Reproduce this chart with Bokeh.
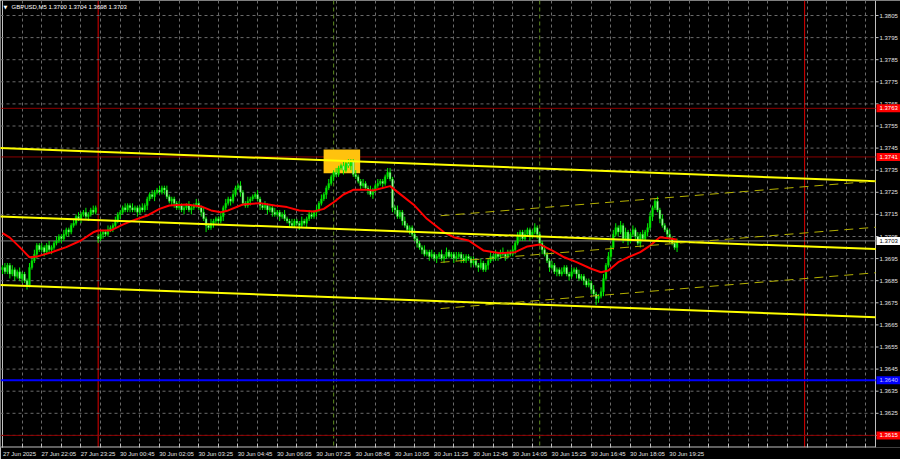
import numpy as np
from bokeh.plotting import figure
from bokeh.models import ColumnDataSource, FixedTicker, Span, Label, Range1d
from bokeh.core.properties import value
from bokeh.embed import file_html
from bokeh.resources import INLINE

# ---------------- data ----------------
symbol = "GBPUSD,M5"
BASE = 1.3700
PIP = 0.0001

# closes in pips relative to 1.3700, one per M5 bar (27 Jun 20:45 ... 30 Jun 19:40)
close_pips = [
    -9, -11, -8, -12, -10, -13, -11, -14, -12, -15,
    -17, -9, -6, -3, 1, -1, 0, -2, 1, -1,
    0, 2, 3, 5, 4, 6, 8, 7, 10, 11,
    14, 13, 15, 16, 14, 15, 17, 16, 18, 4,
    6, 7, 6, 8, 9, 10, 12, 15, 16, 18,
    17, 19, 18, 17, 18, 16, 18, 17, 19, 22,
    24, 23, 25, 26, 25, 27, 26, 23, 21, 22,
    20, 18, 19, 17, 18, 19, 17, 18, 19, 20,
    18, 16, 13, 10, 9, 11, 12, 13, 12, 14,
    18, 20, 22, 21, 24, 27, 28, 25, 20, 19,
    21, 22, 23, 24, 22, 19, 18, 19, 17, 18,
    16, 15, 16, 14, 15, 13, 12, 11, 10, 12,
    11, 10, 12, 11, 13, 15, 14, 16, 17, 20,
    22, 24, 27, 29, 32, 34, 33, 36, 37, 35,
    38, 37, 39, 33, 32, 30, 28, 29, 27, 26,
    24, 26, 28, 29, 30, 29, 32, 34, 31, 18,
    17, 14, 16, 12, 10, 8, 9, 6, 4, 2,
    0, -1, -3, -2, -4, -3, -5, -4, -3, -5,
    -4, -2, -4, -3, -5, -4, -3, -5, -6, -4,
    -5, -7, -6, -8, -9, -7, -10, -8, -6, -4,
    -5, -3, -4, -2, -3, -4, -2, -3, -1, 2,
    5, 7, 4, 6, 8, 5, 7, 9, 6, 2,
    -1, -3, -6, -9, -8, -11, -10, -12, -11, -9,
    -12, -13, -11, -10, -12, -14, -13, -15, -17, -16,
    -19, -21, -23, -22, -20, -14, -8, -4, 0, 6,
    9, 7, 10, 4, 7, 3, 6, 8, 5, 2,
    6, 4, 7, 9, 14, 18, 21, 17, 13, 10,
    8, 6, 4, 2, 0, 3,
]
up_wick_pips = [
    1, 2, 1, 1, 2, 1, 1, 2, 1, 1,
    1, 2, 1, 2, 1, 1, 2, 1, 1, 2,
    1, 1, 2, 1, 1, 2, 1, 1, 1, 2,
    1, 2, 1, 1, 2, 1, 1, 2, 1, 1,
    2, 1, 1, 2, 1, 1, 2, 1, 1, 1,
    2, 1, 1, 2, 1, 1, 1, 2, 1, 1,
    1, 2, 1, 1, 2, 1, 1, 2, 1, 1,
    1, 1, 2, 1, 1, 1, 2, 1, 1, 2,
    1, 1, 2, 1, 1, 2, 1, 1, 1, 2,
    1, 2, 1, 1, 2, 1, 1, 2, 1, 1,
    2, 1, 1, 1, 2, 1, 1, 2, 1, 1,
    1, 2, 1, 1, 1, 2, 1, 1, 2, 1,
    1, 1, 2, 1, 1, 2, 1, 1, 2, 1,
    2, 1, 1, 2, 1, 1, 2, 1, 1, 2,
    1, 2, 1, 1, 2, 1, 1, 2, 1, 1,
    2, 1, 1, 2, 1, 1, 1, 2, 2, 1,
    1, 2, 1, 1, 2, 1, 1, 1, 2, 1,
    1, 1, 2, 1, 1, 2, 1, 1, 1, 2,
    1, 2, 1, 1, 1, 2, 1, 1, 2, 1,
    1, 1, 2, 1, 1, 2, 1, 1, 1, 2,
    1, 2, 1, 1, 2, 1, 1, 1, 2, 1,
    2, 1, 1, 2, 1, 1, 1, 2, 1, 1,
    1, 2, 1, 1, 2, 1, 1, 1, 2, 1,
    1, 1, 2, 1, 1, 2, 1, 1, 1, 2,
    1, 2, 1, 1, 2, 2, 1, 2, 1, 2,
    2, 1, 2, 1, 2, 1, 1, 2, 1, 2,
    1, 2, 1, 2, 2, 1, 1, 2, 1, 2,
    1, 1, 2, 1, 1, 1,
]
dn_wick_pips = [
    2, 1, 1, 2, 1, 2, 1, 1, 2, 1,
    2, 1, 1, 1, 2, 1, 1, 2, 1, 1,
    2, 1, 1, 1, 2, 1, 1, 2, 1, 1,
    1, 1, 2, 1, 1, 2, 1, 1, 1, 2,
    1, 2, 1, 1, 1, 2, 1, 1, 2, 1,
    1, 1, 2, 1, 1, 2, 1, 1, 1, 2,
    1, 1, 2, 1, 1, 1, 2, 1, 1, 2,
    2, 1, 1, 1, 2, 1, 1, 2, 1, 1,
    1, 2, 1, 3, 1, 1, 2, 1, 1, 1,
    2, 1, 1, 2, 1, 1, 1, 2, 1, 1,
    1, 2, 1, 1, 1, 2, 1, 1, 2, 1,
    2, 1, 1, 2, 1, 1, 1, 2, 1, 1,
    1, 2, 1, 1, 2, 1, 1, 1, 2, 1,
    1, 1, 2, 1, 1, 2, 1, 1, 1, 2,
    1, 1, 2, 1, 1, 1, 2, 1, 1, 2,
    1, 2, 1, 1, 1, 2, 1, 1, 1, 2,
    2, 1, 1, 2, 1, 1, 2, 1, 1, 2,
    1, 2, 1, 1, 2, 1, 1, 2, 1, 1,
    2, 1, 1, 1, 2, 1, 1, 2, 1, 1,
    1, 2, 1, 1, 2, 1, 1, 1, 2, 1,
    1, 1, 2, 1, 1, 2, 1, 1, 1, 2,
    1, 2, 1, 1, 1, 2, 1, 1, 2, 1,
    2, 1, 1, 2, 1, 1, 2, 1, 1, 1,
    1, 2, 1, 1, 2, 1, 1, 2, 1, 1,
    2, 1, 3, 2, 1, 2, 1, 1, 2, 1,
    1, 2, 1, 2, 1, 2, 1, 1, 2, 1,
    2, 1, 1, 2, 1, 2, 1, 1, 2, 1,
    1, 2, 1, 1, 1, 2,
]
first_open_pips = -10
gap_bar = 39            # first bar of 30 Jun (after the weekend)
gap_open_pips = 5

# moving average (red), read at sampled bars
ma_bars = [0, 3, 7, 11, 14, 20, 26, 32, 37, 39, 44, 49, 53, 59, 64, 68, 75, 81, 85, 89,
           92, 98, 105, 111, 116, 121, 127, 131, 135, 139, 143, 149, 151, 158, 162, 168,
           173, 180, 184, 190, 196, 203, 209, 214, 219, 224, 229, 234, 240, 244, 247, 251,
           255, 260, 264, 268, 273, 275]
ma_prices = [1.37065, 1.37045, 1.37002, 1.36956, 1.36959, 1.36979, 1.37002, 1.37032, 1.37069, 1.37077,
             1.37077, 1.37104, 1.37122, 1.37145, 1.37175, 1.37190, 1.37195, 1.37186, 1.37168, 1.37160,
             1.37168, 1.37195, 1.37201, 1.37190, 1.37183, 1.37168, 1.37163, 1.37175, 1.37205, 1.37240,
             1.37261, 1.37261, 1.37258, 1.37278, 1.37243, 1.37190, 1.37130, 1.37069, 1.37047, 1.37032,
             1.36987, 1.36974, 1.36979, 1.37005, 1.37014, 1.36987, 1.36956, 1.36934, 1.36904, 1.36888,
             1.36896, 1.36934, 1.36956, 1.36979, 1.37009, 1.37047, 1.37040, 1.37035]

# time axis labels (one every 16 bars, starting at bar 0)
tick_labels = ["27 Jun 2025", "27 Jun 22:05", "27 Jun 23:25", "30 Jun 00:45", "30 Jun 02:05",
               "30 Jun 03:25", "30 Jun 04:45", "30 Jun 06:05", "30 Jun 07:25", "30 Jun 08:45",
               "30 Jun 10:05", "30 Jun 11:25", "30 Jun 12:45", "30 Jun 14:05", "30 Jun 15:25",
               "30 Jun 16:45", "30 Jun 18:05", "30 Jun 19:25"]
price_ticks = [1.3615, 1.3625, 1.3635, 1.3645, 1.3655, 1.3665, 1.3675, 1.3685, 1.3695, 1.3705,
               1.3715, 1.3725, 1.3735, 1.3745, 1.3755, 1.3765, 1.3775, 1.3785, 1.3795, 1.3805]

# horizontal levels
res_levels = [1.3763, 1.3741]
sup_blue = 1.3640
sup_red = 1.3615

# descending channel (solid yellow)
down_bars = [-1, 356]
down_top = [1.37451, 1.37300]
down_mid = [1.37141, 1.36993]
down_bot = [1.36831, 1.36685]
# ascending channel (dashed)
up_bars = [178.6, 356]
up_top = [1.37144, 1.37301]
up_mid = [1.36933, 1.37092]
up_bot = [1.36724, 1.36886]

# highlighted box (orange)
box_bars = [130.9, 145.8]
box_prices = [1.37336, 1.37444]

day_sep_bars = [39, 327]
session_bars = [135, 219]

# ---------------- layout constants ----------------
PX_PER_BAR = 2.453          # horizontal scale
PX_PER_PRICE = 22100.0      # vertical scale
X0, X1 = -2 / PX_PER_BAR, 898 / PX_PER_BAR      # canvas 0..900
XB = 873 / PX_PER_BAR                            # price-scale border
Y1 = 1.3805 + 15 / PX_PER_PRICE                  # top of frame
Y0 = 1.3805 - 432 / PX_PER_PRICE                 # bottom of frame
FONT = "Liberation Sans"

# ---------------- build ----------------
c = np.array(close_pips, dtype=float)
o = np.concatenate([[first_open_pips], c[:-1]])
o[gap_bar] = gap_open_pips
h = np.maximum(o, c) + np.array(up_wick_pips, dtype=float)
l = np.minimum(o, c) - np.array(dn_wick_pips, dtype=float)
idx = np.arange(len(c))
O, H, L, C = (BASE + a * PIP for a in (o, h, l, c))
last_price = float(np.round(C[-1], 4))

p = figure(frame_width=900, frame_height=447, output_backend="svg", toolbar_location=None,
           x_range=Range1d(X0, X1), y_range=Range1d(Y0, Y1),
           x_axis_location="below", y_axis_location=None, min_border=0,
           background_fill_color="#000000", border_fill_color="#000000",
           outline_line_color=None)

# vertical grid every 8 bars
p.xgrid.ticker = FixedTicker(ticks=list(range(0, 356, 8)))
p.xgrid.grid_line_color = "#6a6a6a"
p.xgrid.grid_line_dash = "3 3"
p.ygrid.visible = False
# horizontal grid (stops at the price scale)
p.segment(x0=[X0] * len(price_ticks), x1=[XB] * len(price_ticks), y0=price_ticks, y1=price_ticks,
          line_color="#6a6a6a", line_dash="3 3", line_width=1)

# time axis: labels start at their tick (MT4 style)
xa = p.xaxis[0]
half_label = 17.0 / PX_PER_BAR
label_pos = [round(16 * k + half_label, 2) for k in range(len(tick_labels))]
xa.ticker = FixedTicker(ticks=label_pos, minor_ticks=list(range(0, 356, 8)))
xa.major_label_overrides = {t: s for t, s in zip(label_pos, tick_labels)}
xa.major_label_text_font = FONT
xa.major_label_text_font_size = "6px"
xa.major_label_text_color = "#e0e0e0"
xa.major_label_standoff = 3
xa.major_tick_in = 0
xa.major_tick_out = 0
xa.minor_tick_in = 4
xa.minor_tick_out = 0
xa.minor_tick_line_color = "#c0c0c0"
xa.axis_line_color = None

# borders
p.add_layout(Span(location=XB, dimension="height", line_color="#c0c0c0", line_width=1, level="underlay"))
p.add_layout(Span(location=0, dimension="height", line_color="#c0c0c0", line_width=1, level="underlay"))
p.segment(x0=[X0], x1=[XB], y0=[Y0 + 0.5 / PX_PER_PRICE], y1=[Y0 + 0.5 / PX_PER_PRICE],
          line_color="#c0c0c0", line_width=1)

# horizontal levels (behind the price action)
for lv, col, w in [(res_levels[0], "#8c0000", 1), (res_levels[1], "#8c0000", 1),
                   (sup_red, "#8c0000", 1), (sup_blue, "#0000ff", 2), (last_price, "#7a7a7a", 1)]:
    p.segment(x0=[X0], x1=[XB], y0=[lv], y1=[lv], line_color=col, line_width=w)
for b in day_sep_bars:
    p.add_layout(Span(location=b, dimension="height", line_color="#e00000", line_width=1, level="underlay"))
for b in session_bars:
    p.add_layout(Span(location=b, dimension="height", line_color="#5e8c20", line_width=1,
                      line_dash="4 3", level="underlay"))

# orange box
p.quad(left=[box_bars[0]], right=[box_bars[1]], bottom=[box_prices[0]], top=[box_prices[1]],
       fill_color="#ffc20e", line_color=None)

# candles
src = ColumnDataSource(dict(x=idx, o=O, h=H, l=L, c=C,
                            top=np.maximum(O, C), bot=np.minimum(O, C),
                            col=np.where(C >= O, "#00f000", "#b8ffb8")))
p.segment(x0="x", y0="l", x1="x", y1="h", source=src, line_color="#00f000", line_width=1)
p.vbar(x="x", width=0.7, top="top", bottom="bot", source=src,
       fill_color="col", line_color="#00d000", line_width=0.5)

# moving average
p.line(ma_bars, ma_prices, line_color="#ff0000", line_width=2)

# channels
for ys in (down_top, down_mid, down_bot):
    p.line(down_bars, ys, line_color="#ffff00", line_width=2)
for ys in (up_top, up_mid, up_bot):
    p.line(up_bars, ys, line_color="#b4b000", line_width=1, line_dash="9 6")

# price scale: ticks and labels
tick_len = 3 / PX_PER_BAR
p.segment(x0=[XB] * len(price_ticks), x1=[XB + tick_len] * len(price_ticks), y0=price_ticks,
          y1=price_ticks, line_color="#c0c0c0", line_width=1)
lab_x = XB + 4 / PX_PER_BAR
p.text(x=[lab_x] * len(price_ticks), y=price_ticks, text=[f"{v:.4f}" for v in price_ticks],
       text_font=value(FONT), text_font_size=value("6px"), text_color="#e0e0e0",
       text_align="left", text_baseline="middle")

# coloured price boxes on the scale
box_vals = [res_levels[0], res_levels[1], sup_blue, sup_red, last_price]
box_fill = ["#ff0000", "#ff0000", "#0000ff", "#ff0000", "#ffffff"]
box_text = ["#ffffff", "#ffffff", "#c0c0ff", "#ffffff", "#000000"]
bx0 = XB + 1 / PX_PER_BAR
bx1 = XB + 25 / PX_PER_BAR
p.quad(left=[bx0] * 5, right=[bx1] * 5,
       bottom=[v - 4 / PX_PER_PRICE for v in box_vals], top=[v + 4 / PX_PER_PRICE for v in box_vals],
       fill_color=box_fill, line_color=None)
p.text(x=[lab_x] * 5, y=box_vals, text=[f"{v:.4f}" for v in box_vals],
       text_font=value(FONT), text_font_size=value("6px"), text_color=box_text,
       text_align="left", text_baseline="middle")

# title
title_y = 1.3805 + 9 / PX_PER_PRICE
p.add_layout(Label(x=1 / PX_PER_BAR, y=title_y, text="\u25bc", text_baseline="middle",
                   text_font="DejaVu Sans", text_font_size="5px", text_color="#ffffff"))
title = f"{symbol}  {O[-1]:.4f} {H[-1]:.4f} {L[-1]:.4f} {C[-1]:.4f}"
p.add_layout(Label(x=9 / PX_PER_BAR, y=title_y, text=title, text_baseline="middle",
                   text_font=FONT, text_font_size="6px", text_color="#ffffff"))

open("out.html", "w").write(file_html(p, INLINE))
